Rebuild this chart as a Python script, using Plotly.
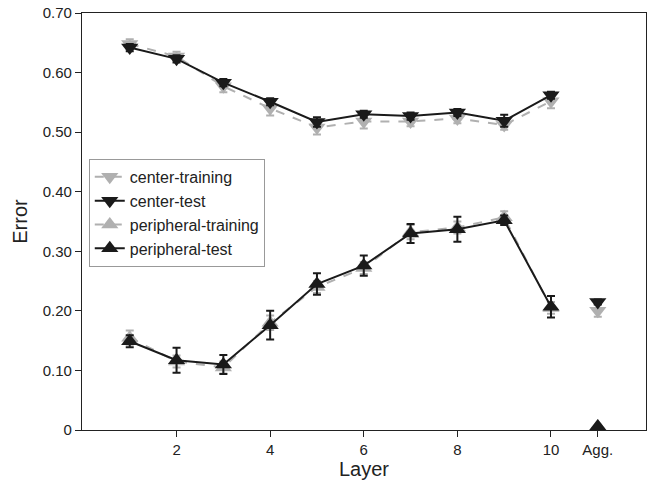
import plotly.graph_objects as go

layers = [1, 2, 3, 4, 5, 6, 7, 8, 9, 10]
agg_x = 11
x_tickvals = [2, 4, 6, 8, 10, 11]
x_ticktext = ["2", "4", "6", "8", "10", "Agg."]
y_tickvals = [0, 0.1, 0.2, 0.3, 0.4, 0.5, 0.6, 0.7]
y_ticktext = ["0", "0.10", "0.20", "0.30", "0.40", "0.50", "0.60", "0.70"]

center_training = [0.648, 0.627, 0.577, 0.540, 0.508, 0.518, 0.518, 0.523, 0.512, 0.552]
center_training_err = [0.008, 0.008, 0.010, 0.012, 0.012, 0.012, 0.008, 0.008, 0.008, 0.012]
center_test = [0.642, 0.623, 0.583, 0.551, 0.517, 0.530, 0.527, 0.533, 0.519, 0.562]
center_test_err = [0.006, 0.006, 0.006, 0.006, 0.008, 0.006, 0.006, 0.006, 0.010, 0.006]
peripheral_training = [0.155, 0.115, 0.105, 0.180, 0.240, 0.272, 0.332, 0.340, 0.357, 0.205]
peripheral_training_err = [0.012, 0.010, 0.010, 0.012, 0.010, 0.010, 0.012, 0.010, 0.010, 0.010]
peripheral_test = [0.149, 0.117, 0.110, 0.176, 0.245, 0.276, 0.330, 0.337, 0.352, 0.207]
peripheral_test_err = [0.010, 0.021, 0.016, 0.024, 0.018, 0.017, 0.016, 0.021, 0.008, 0.018]

agg_center_training = 0.200
agg_center_training_err = 0.010
agg_center_test = 0.215
agg_center_test_err = 0.004
agg_peripheral_training = 0.006
agg_peripheral_test = 0.006

GRAY = "#b0b0b0"
BLACK = "#1a1a1a"

fig = go.Figure()

def add(name, y, err, color, dash, symbol, yagg, erragg):
    fig.add_trace(go.Scatter(
        x=layers, y=y, name=name, mode="lines+markers",
        line=dict(color=color, width=2, dash=dash),
        marker=dict(symbol=symbol, size=15, color=color),
        error_y=dict(type="data", array=err, color=color, thickness=2, width=4),
    ))
    fig.add_trace(go.Scatter(
        x=[agg_x], y=[yagg], mode="markers", showlegend=False,
        marker=dict(symbol=symbol, size=15, color=color),
        error_y=dict(type="data", array=[erragg], color=color, thickness=2, width=4),
    ))

add("center-training", center_training, center_training_err, GRAY, "dash", "triangle-down",
    agg_center_training, agg_center_training_err)
add("center-test", center_test, center_test_err, BLACK, "solid", "triangle-down",
    agg_center_test, agg_center_test_err)
add("peripheral-training", peripheral_training, peripheral_training_err, GRAY, "dash", "triangle-up",
    agg_peripheral_training, 0)
add("peripheral-test", peripheral_test, peripheral_test_err, BLACK, "solid", "triangle-up",
    agg_peripheral_test, 0)

fig.update_layout(
    width=663, height=483,
    margin=dict(l=82, r=17, t=13, b=53, autoexpand=False),
    paper_bgcolor="white", plot_bgcolor="white",
    font=dict(family="Liberation Sans, Arial, sans-serif", size=15, color="#222"),
    showlegend=True,
    legend=dict(
        x=0.012, y=0.65, xanchor="left", yanchor="top",
        bgcolor="white", bordercolor="#999", borderwidth=1,
        font=dict(size=16), tracegroupgap=0, itemwidth=30,
    ),
    xaxis=dict(
        range=[-0.02, 12.03], tickvals=x_tickvals, ticktext=x_ticktext,
        showline=True, linecolor="#222", linewidth=1.2, mirror=True, automargin=False,
        ticks="outside", ticklen=6, tickcolor="#222", showgrid=False, zeroline=False,
        title=dict(text="Layer", font=dict(size=20), standoff=1),
    ),
    yaxis=dict(
        range=[0, 0.7], tickvals=y_tickvals, ticktext=y_ticktext,
        showline=True, linecolor="#222", linewidth=1.2, mirror=True, automargin=False,
        ticks="outside", ticklen=6, tickcolor="#222", showgrid=False, zeroline=False,
        title=dict(text="Error", font=dict(size=20), standoff=9),
    ),
)

fig.write_html("out.html")
